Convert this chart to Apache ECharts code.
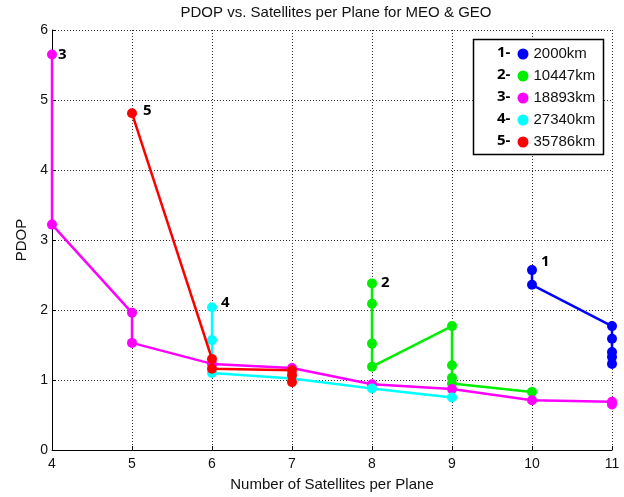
<!DOCTYPE html>
<html>
<head>
<meta charset="utf-8">
<script src="https://cdn.jsdelivr.net/npm/echarts@6/dist/echarts.min.js"></script>
<style>html,body{margin:0;padding:0;background:#fff;}#c{width:624px;height:497px;}</style>
</head>
<body>
<div id="c"></div>
<script>
var seriesNames = ['2000km', '10447km', '18893km', '27340km', '35786km'];
var seriesTags = ['1', '2', '3', '4', '5'];
var seriesColors = ['#0000ff', '#00ee00', '#ff00ff', '#00ffff', '#ff0000'];
var xTicks = [4, 5, 6, 7, 8, 9, 10, 11];
var yTicks = [0, 1, 2, 3, 4, 5, 6];

var sat1 = [10, 10, 11, 11, 11, 11, 11];
var pdop1 = [2.57, 2.36, 1.77, 1.59, 1.40, 1.33, 1.23];
var sat2 = [8, 8, 8, 8, 9, 9, 9, 9, 10];
var pdop2 = [2.38, 2.09, 1.52, 1.19, 1.77, 1.21, 1.03, 0.95, 0.83];
var sat3 = [4, 4, 5, 5, 6, 7, 8, 9, 10, 11, 11];
var pdop3 = [5.65, 3.22, 1.96, 1.53, 1.23, 1.17, 0.94, 0.87, 0.71, 0.69, 0.65];
var sat4 = [6, 6, 6, 7, 8, 9];
var pdop4 = [2.04, 1.57, 1.10, 1.02, 0.88, 0.75];
var sat5 = [5, 6, 6, 7, 7, 7];
var pdop5 = [4.81, 1.30, 1.16, 1.14, 1.07, 0.97];

var sats = [sat1, sat2, sat3, sat4, sat5];
var pdops = [pdop1, pdop2, pdop3, pdop4, pdop5];
var labelOffsets = [[3, -8], [3, -1], [0, 0], [3, -4], [5, -3]];

var series = seriesNames.map(function (name, i) {
  var data = sats[i].map(function (x, j) {
    var item = { value: [x, pdops[i][j]] };
    if (j === 0) {
      item.label = {
        show: true, position: 'right', distance: 1, formatter: seriesTags[i],
        offset: labelOffsets[i], color: '#000', fontWeight: 'bold',
        fontSize: 15, fontFamily: 'Open Sans'
      };
    }
    return item;
  });
  return {
    name: name, type: 'line', data: data,
    symbol: 'circle', symbolSize: 10, showSymbol: true,
    itemStyle: { color: seriesColors[i] },
    lineStyle: { color: seriesColors[i], width: 2.5 },
    z: 2 + i, animation: false
  };
});

var legendGraphics = [{
  type: 'rect', shape: { x: 473.5, y: 39.5, width: 130, height: 115 },
  style: { fill: '#fff', stroke: '#000', lineWidth: 1.5 }, z: 100
}];
seriesTags.forEach(function (t, i) {
  legendGraphics.push({
    type: 'text', x: 497, y: 53 + i * 22, z: 101,
    style: { text: t + '-', fill: '#000', font: 'bold 15px "Open Sans"', verticalAlign: 'middle', textVerticalAlign: 'middle' }
  });
});

var chart = echarts.init(document.getElementById('c'), null, { renderer: 'canvas' });
chart.setOption({
  animation: false,
  backgroundColor: '#fff',
  title: {
    text: 'PDOP vs. Satellites per Plane for MEO & GEO',
    left: 331, top: 0, textAlign: 'center',
    textStyle: { fontFamily: 'Liberation Sans', fontSize: 15, fontWeight: 'normal', color: '#111' }
  },
  grid: { left: 52, right: 12, top: 30, bottom: 45.5 },
  legend: {
    orient: 'vertical', left: 512.5, top: 41, z: 102,
    icon: 'circle', itemWidth: 11, itemHeight: 11, itemGap: 6,
    data: seriesNames,
    textStyle: { fontFamily: 'Liberation Sans', fontSize: 15, color: '#111', lineHeight: 16 }
  },
  graphic: legendGraphics,
  xAxis: {
    type: 'value', min: 4, max: 11, interval: 1,
    name: 'Number of Satellites per Plane', nameLocation: 'middle', nameGap: 27,
    nameTextStyle: { fontFamily: 'Liberation Sans', fontSize: 15, color: '#111' },
    axisLine: { lineStyle: { color: '#000', width: 1 } },
    axisTick: { show: true, inside: true, length: 4, lineStyle: { color: '#000' } },
    axisLabel: { fontFamily: 'Liberation Sans', fontSize: 14, color: '#111', margin: 7,
      formatter: function (v) { return xTicks.indexOf(v) >= 0 ? String(v) : ''; } },
    splitLine: { show: true, lineStyle: { color: '#333', type: [1, 2], width: 1 } }
  },
  yAxis: {
    type: 'value', min: 0, max: 6, interval: 1,
    name: 'PDOP', nameLocation: 'middle', nameGap: 23, nameRotate: 90,
    nameTextStyle: { fontFamily: 'Liberation Sans', fontSize: 15, color: '#111' },
    axisLine: { show: true, lineStyle: { color: '#000', width: 1 } },
    axisTick: { show: true, inside: true, length: 4, lineStyle: { color: '#000' } },
    axisLabel: { fontFamily: 'Liberation Sans', fontSize: 14, color: '#111', margin: 4,
      formatter: function (v) { return yTicks.indexOf(v) >= 0 ? String(v) : ''; } },
    splitLine: { show: true, lineStyle: { color: '#333', type: [1, 2], width: 1 } }
  },
  series: series
});
</script>
</body>
</html>
